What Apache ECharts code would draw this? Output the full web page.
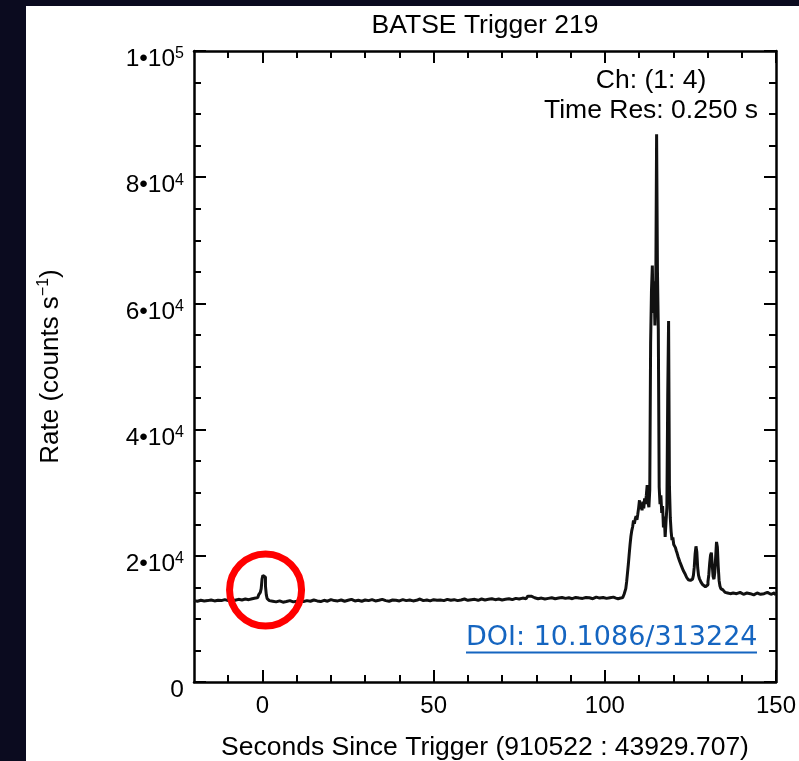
<!DOCTYPE html>
<html>
<head>
<meta charset="utf-8">
<title>BATSE Trigger 219</title>
<script src="https://cdn.jsdelivr.net/npm/echarts@6/dist/echarts.min.js"></script>
<style>
  html, body { margin: 0; padding: 0; background: #0b0b1f; }
  #panel { position: absolute; left: 26px; top: 6px; width: 773px; height: 755px; background: #fff; }
  #chart { position: absolute; left: 0; top: 0; width: 799px; height: 761px; }
</style>
</head>
<body>
<div id="panel"></div>
<div id="chart"></div>
<script>
// light curve, counts/s (several time resolutions)
var preStart = -20, preStep = 1;
var preRate = [12900, 12800, 12950, 12850, 12900, 13000, 12850, 12950, 12900, 13050,
               12900, 13000, 12950, 13100, 13000, 13150, 13050, 13200, 13300];

var spikeStart = -1.75, spikeStep = 0.25;
var spikeRate = [13300, 13400, 13600, 13800, 13700, 14200, 14800, 16300, 16900, 17000,
                 16600, 15200, 13800, 13200, 13000, 12900];

var quietStart = 3, quietStep = 1;
var quietRate = [12800, 12700, 12850, 12650, 12750, 12900, 12700, 12800, 12950, 12750,
                 12900, 12800, 13000, 12850, 12750, 12950, 12800, 13050, 12900, 12850,
                 13000, 12800, 12950, 13100, 12850, 12950, 12800, 13000, 12900, 13050,
                 12850, 12950, 13100, 12900, 12800, 13000, 12950, 12850, 13050, 12900,
                 13000, 12850, 12950, 13150, 12900, 13000, 12850, 13050, 12950, 13000,
                 12900, 13100, 12950, 13050, 12900, 13000, 13150, 12950, 13050, 13100,
                 12950, 13150, 13000, 13100, 13200, 13050, 13150, 13000, 13100, 13200,
                 13050, 13250, 13150, 13300, 13200, 13600, 13350, 13200, 13300, 13150,
                 13250, 13350, 13200, 13300, 13400, 13250, 13350, 13200, 13400, 13300,
                 13250, 13400, 13350, 13200, 13450, 13300, 13400, 13250, 13350, 13450, 13300];

var burstStart = 103.25, burstStep = 0.25;
var burstRate = [13300, 13500, 13200, 13400, 13100, 13300, 13500, 13300, 13400, 13600,
                 13900, 14200, 14800, 15900, 17300, 18700, 20300, 21800, 23100, 24000,
                 24600, 25600, 25100, 25800, 26300, 25700, 26600, 27600, 28800, 27400,
                 28300, 27200, 28600, 27500, 29100, 28200, 29600, 31200, 28500, 27700,
                 30400, 53700, 62000, 66000, 58500, 63500, 56500, 61500, 86800, 65000,
                 55900, 30900, 28200, 29600, 26800, 27900, 24500, 26200, 23000, 25400,
                 27600, 45400, 57200, 31000, 26000, 23800, 22500, 22900, 21800, 22000,
                 21300, 20800, 20400, 19900, 19500, 19100, 18800, 18400, 18100, 17700,
                 17400, 17200, 16900, 16600, 16400, 16200, 16000, 16100, 15900, 16000,
                 16300, 16900, 18200, 20300, 21500, 20600, 18100, 16900, 16400, 16100,
                 15800, 15600, 15400, 15300, 15100, 15000, 15200, 15400, 15900, 17000,
                 18800, 20100, 20500, 18600, 16700, 16300, 17400, 19800, 22200, 21400,
                 18300, 16100, 15200, 14800, 14500, 14600, 14300, 14400, 14200, 14300,
                 14100, 14300, 14200, 14000, 14200, 14100];

var tailStart = 138, tailStep = 1;
var tailRate = [14000, 14200, 13900, 14100, 14000, 13800, 14100, 13900, 14000, 14200,
                13900, 14100, 13800];

var xMajor = [0, 50, 100, 150];
var xMinor = [-10, 10, 20, 30, 40, 60, 70, 80, 90, 110, 120, 130, 140];
var yLabelBase = ['0', '2•10', '4•10', '6•10', '8•10', '1•10'];
var yLabelExp = ['', '4', '4', '4', '4', '5'];
var circleAt = [0.9, 14500];

function seg(start, step, rates) {
    var out = [];
    for (var i = 0; i < rates.length; i++) {
        out.push([start + i * step, rates[i]]);
    }
    return out;
}

var curve = [].concat(
    seg(preStart, preStep, preRate),
    seg(spikeStart, spikeStep, spikeRate),
    seg(quietStart, quietStep, quietRate),
    seg(burstStart, burstStep, burstRate),
    seg(tailStart, tailStep, tailRate)
);

var font = '"Liberation Sans", Arial, Helvetica, sans-serif';
var black = '#000';

function xAxisCfg(pos, ticks, len, main) {
    return {
        type: 'value', position: pos, min: -20, max: 150,
        axisLine: { show: main, onZero: false, lineStyle: { color: black, width: 2.5 } },
        axisTick: { show: true, inside: true, length: len, customValues: ticks,
                    lineStyle: { color: black, width: 2 } },
        axisLabel: { show: main && pos === 'bottom', customValues: ticks, margin: 12,
                     color: black, fontSize: 24, fontFamily: font },
        splitLine: { show: false },
        name: main && pos === 'bottom' ? 'Seconds Since Trigger (910522 : 43929.707)' : '',
        nameLocation: 'middle', nameGap: 52,
        nameTextStyle: { color: black, fontSize: 26.5, fontFamily: font }
    };
}

function yAxisCfg(pos) {
    var left = pos === 'left';
    return {
        type: 'value', position: pos, min: 0, max: 100000, interval: 20000,
        axisLine: { show: true, onZero: false, lineStyle: { color: black, width: 2.5 } },
        axisTick: { show: true, inside: true, length: 12, lineStyle: { color: black, width: 2 } },
        minorTick: { show: true, splitNumber: 4, length: 7, lineStyle: { color: black, width: 2 } },
        minorSplitLine: { show: false },
        splitLine: { show: false },
        axisLabel: {
            show: left, margin: 10, padding: [16, 0, 0, 0],
            formatter: function (v) {
                var i = Math.round(v / 20000);
                if (!yLabelExp[i]) return '{m|' + yLabelBase[i] + '}';
                return '{m|' + yLabelBase[i] + '}{e|' + yLabelExp[i] + '}';
            },
            rich: {
                m: { fontSize: 24.5, fontFamily: font, color: black, lineHeight: 26, verticalAlign: 'bottom' },
                e: { fontSize: 16, fontFamily: font, color: black, lineHeight: 16, verticalAlign: 'top',
                     padding: [0, 0, 16, 0] }
            }
        },
        name: left ? '{n|Rate (counts s}{s|−1}{n|)}' : '',
        nameLocation: 'middle', nameGap: 130, nameRotate: 90,
        nameTextStyle: {
            rich: {
                n: { fontSize: 26, fontFamily: font, color: black, lineHeight: 28, verticalAlign: 'bottom' },
                s: { fontSize: 16, fontFamily: font, color: black, lineHeight: 16, verticalAlign: 'top',
                     padding: [0, 0, 14, 0] }
            }
        }
    };
}

var chart = echarts.init(document.getElementById('chart'), null, { renderer: 'canvas' });

chart.setOption({
    animation: false,
    backgroundColor: 'transparent',
    grid: { left: 194, right: 23, top: 51, bottom: 79, containLabel: false, outerBoundsMode: 'none' },
    xAxis: [
        xAxisCfg('bottom', xMajor, 12, true),
        xAxisCfg('bottom', xMinor, 7, false),
        xAxisCfg('top', xMajor, 12, true),
        xAxisCfg('top', xMinor, 7, false)
    ],
    yAxis: [yAxisCfg('left'), yAxisCfg('right')],
    series: [{
        type: 'line',
        xAxisIndex: 0, yAxisIndex: 0,
        data: curve,
        step: 'middle',
        showSymbol: false,
        lineStyle: { color: '#111', width: 3 },
        z: 3
    }]
});

var c = chart.convertToPixel({ xAxisIndex: 0, yAxisIndex: 0 }, circleAt);

chart.setOption({
    graphic: [
        { type: 'text', x: 485, y: 26,
          style: { text: 'BATSE Trigger 219', fill: black, fontSize: 26.5, fontFamily: font,
                   align: 'center', verticalAlign: 'middle' } },
        { type: 'text', x: 651, y: 81,
          style: { text: 'Ch: (1: 4)', fill: black, fontSize: 26.5, fontFamily: font,
                   align: 'center', verticalAlign: 'middle' } },
        { type: 'text', x: 651, y: 111,
          style: { text: 'Time Res: 0.250 s', fill: black, fontSize: 26.5, fontFamily: font,
                   align: 'center', verticalAlign: 'middle' } },
        { type: 'text', x: 466, y: 638,
          style: { text: 'DOI: 10.1086/313224', fill: '#1565c0', fontSize: 27,
                   fontFamily: '"DejaVu Sans", Verdana, sans-serif',
                   align: 'left', verticalAlign: 'middle' } },
        { type: 'line', shape: { x1: 466, y1: 652.5, x2: 757, y2: 652.5 },
          style: { stroke: '#1565c0', lineWidth: 2 } },
        { type: 'circle', shape: { cx: c[0], cy: c[1] - 0.5, r: 36 },
          style: { fill: 'none', stroke: '#ff0000', lineWidth: 7 }, z: 10 }
    ]
});
</script>
</body>
</html>
